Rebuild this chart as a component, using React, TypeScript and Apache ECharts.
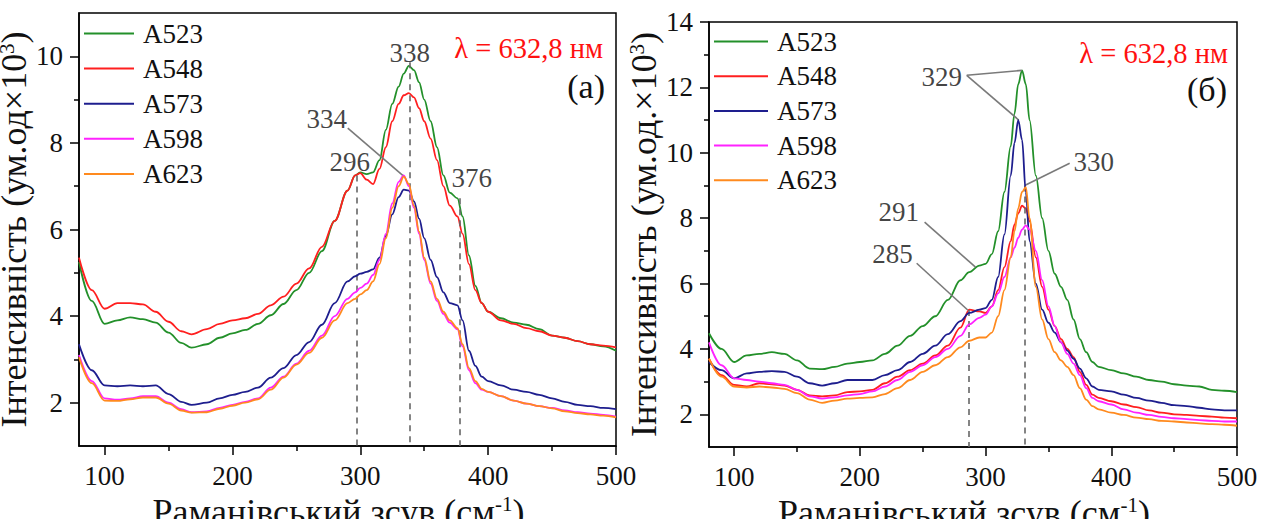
import React, { useEffect, useRef } from 'react';
import * as echarts from 'echarts';

const FONT = 'Liberation Serif';
const NAMES = ['A523', 'A548', 'A573', 'A598', 'A623'];
const COLORS = ['#23902a', '#ff1f1f', '#1e1e8e', '#ff22ff', '#ff8a1e'];

// Tick values
const X_LABELS = [100, 200, 300, 400, 500];
const X_MINOR = [150, 250, 350, 450];
const LY_LABELS = [2, 4, 6, 8, 10];
const LY_MINOR = [3, 5, 7, 9];
const RY_LABELS = [2, 4, 6, 8, 10, 12, 14];
const RY_MINOR = [3, 5, 7, 9, 11, 13];

// Panel (a)
const LX = [80, 90, 100, 110, 120, 130, 140, 150, 160, 168, 180, 190, 200, 210, 220, 230, 240, 250, 260, 270, 280, 290, 296, 300, 305, 310, 315, 320, 325, 330, 334, 338, 342, 346, 350, 355, 360, 365, 370, 376, 380, 385, 390, 395, 400, 410, 420, 430, 440, 450, 460, 470, 480, 490, 500];
const L_A523 = [5.25, 4.35, 3.82, 3.9, 3.97, 3.93, 3.85, 3.62, 3.38, 3.27, 3.35, 3.5, 3.6, 3.68, 3.82, 4.02, 4.28, 4.6, 5.0, 5.5, 6.2, 6.9, 7.25, 7.32, 7.28, 7.32, 7.6, 8.3, 8.9, 9.3, 9.6, 9.78, 9.68, 9.4, 9.0, 8.5, 7.9, 7.25, 6.85, 6.72, 6.3, 5.4, 4.7, 4.3, 4.1, 3.95, 3.85, 3.8, 3.7, 3.55, 3.5, 3.42, 3.35, 3.3, 3.2];
const L_A548 = [5.35, 4.6, 4.17, 4.3, 4.3, 4.27, 4.1, 3.87, 3.65, 3.58, 3.7, 3.82, 3.9, 3.95, 4.05, 4.25, 4.45, 4.75, 5.1, 5.6, 6.2, 6.9, 7.25, 7.3, 7.15, 7.05, 7.4, 7.9, 8.5, 8.9, 9.1, 9.15, 9.05, 8.8, 8.5, 8.1, 7.6, 7.0, 6.55, 6.3, 5.9, 5.2, 4.6, 4.3, 4.1, 3.9, 3.82, 3.72, 3.65, 3.55, 3.5, 3.42, 3.35, 3.32, 3.28];
const L_A573 = [3.35, 2.75, 2.4, 2.38, 2.4, 2.38, 2.4, 2.2, 2.02, 1.95, 2.0, 2.1, 2.18, 2.25, 2.35, 2.58, 2.8, 3.1, 3.4, 3.8, 4.3, 4.8, 4.92, 4.98, 5.02, 5.08, 5.35, 5.85, 6.35, 6.75, 6.92, 6.9, 6.65, 6.25, 5.8, 5.3, 4.9, 4.55, 4.3, 4.25, 3.9, 3.2, 2.85, 2.6, 2.5, 2.4, 2.3, 2.25, 2.18, 2.1, 2.02, 1.95, 1.92, 1.88, 1.85];
const L_A598 = [3.1, 2.5, 2.1, 2.07, 2.1, 2.15, 2.15, 2.0, 1.85, 1.78, 1.8, 1.88, 1.95, 2.02, 2.1, 2.35, 2.6, 2.9, 3.2, 3.55, 4.0, 4.4, 4.55, 4.65, 4.75, 4.95, 5.3, 5.9, 6.6, 7.1, 7.25, 7.0, 6.5, 5.9, 5.3, 4.75, 4.35, 4.05, 3.85, 3.7, 3.3, 2.75, 2.45, 2.3, 2.25, 2.15, 2.05, 1.98, 1.92, 1.88, 1.82, 1.78, 1.75, 1.72, 1.68];
const L_A623 = [3.05, 2.45, 2.05, 2.04, 2.08, 2.12, 2.12, 1.98, 1.82, 1.77, 1.78, 1.86, 1.93, 2.0, 2.08, 2.3, 2.58, 2.88, 3.15, 3.5, 3.9, 4.3, 4.4, 4.5, 4.6, 4.8, 5.2, 5.8, 6.5, 7.0, 7.22, 7.05, 6.55, 5.95, 5.35, 4.8, 4.4, 4.1, 3.9, 3.72, 3.35, 2.8, 2.5, 2.32, 2.25, 2.15, 2.05, 1.98, 1.92, 1.87, 1.8, 1.76, 1.73, 1.7, 1.66];

// Panel (б)
const RX = [80, 90, 100, 110, 120, 130, 140, 150, 160, 170, 180, 190, 200, 210, 220, 230, 240, 250, 260, 270, 280, 287, 295, 300, 305, 310, 315, 320, 323, 326, 329, 332, 335, 340, 345, 350, 355, 360, 365, 370, 375, 380, 385, 390, 400, 410, 420, 430, 440, 450, 460, 470, 480, 490, 500];
const R_A523 = [4.48, 4.0, 3.6, 3.8, 3.85, 3.9, 3.85, 3.65, 3.4, 3.38, 3.45, 3.55, 3.6, 3.65, 3.85, 4.1, 4.4, 4.7, 5.0, 5.5, 6.1, 6.35, 6.55, 6.6, 6.9, 7.6, 8.8, 10.2, 11.2, 12.1, 12.52, 12.1, 11.0, 9.3, 8.0, 7.0, 6.3, 5.9, 5.5, 4.9, 4.3, 3.9, 3.6, 3.45, 3.35, 3.25, 3.15, 3.05, 3.0, 2.92, 2.88, 2.85, 2.75, 2.72, 2.68];
const R_A548 = [3.7, 3.2, 2.9, 2.85, 2.95, 2.92, 2.88, 2.75, 2.58, 2.55, 2.58, 2.68, 2.7, 2.75, 2.95, 3.15, 3.35, 3.55, 3.8, 4.1, 4.65, 5.2, 5.15, 5.1, 5.3, 5.8, 6.5, 7.3, 7.8, 8.15, 8.38, 8.3, 7.9, 6.8, 5.9, 5.2, 4.7, 4.3, 4.0, 3.75, 3.3, 2.9, 2.6, 2.5, 2.4, 2.3, 2.22, 2.12, 2.05, 2.0, 1.98, 1.95, 1.93, 1.9, 1.88];
const R_A573 = [3.6, 3.35, 3.1, 3.25, 3.3, 3.32, 3.3, 3.15, 2.95, 2.88, 2.95, 3.05, 3.05, 3.05, 3.2, 3.35, 3.6, 3.85, 4.1, 4.45, 4.85, 5.1, 5.2, 5.25, 5.5, 6.2, 7.5, 9.3, 10.3, 11.0, 10.4, 8.8, 7.3, 6.0, 5.2, 4.8, 4.5, 4.2, 3.95, 3.7, 3.4, 3.1, 2.85, 2.75, 2.7, 2.6, 2.5, 2.42, 2.35, 2.28, 2.25, 2.2, 2.15, 2.12, 2.12];
const R_A598 = [4.2, 3.5, 3.1, 3.05, 3.0, 2.95, 2.9, 2.75, 2.55, 2.48, 2.52, 2.58, 2.62, 2.7, 2.85, 3.05, 3.3, 3.5, 3.75, 4.0, 4.4, 4.75, 4.95, 5.05, 5.3, 5.7, 6.2, 6.8, 7.1, 7.4, 7.65, 7.78, 7.65, 7.0, 6.1, 5.3, 4.7, 4.2, 3.85, 3.55, 3.2, 2.8, 2.5, 2.4, 2.3, 2.15, 2.05, 1.98, 1.92, 1.88, 1.85, 1.82, 1.8, 1.78, 1.78];
const R_A623 = [3.7, 3.15, 2.85, 2.82, 2.85, 2.82, 2.78, 2.65, 2.45, 2.35, 2.42, 2.48, 2.5, 2.52, 2.62, 2.8, 3.05, 3.3, 3.5, 3.75, 4.05, 4.25, 4.35, 4.35, 4.5, 5.0, 5.8, 6.8, 7.6, 8.3, 8.8, 8.95, 8.0, 5.9, 4.9, 4.3, 3.9, 3.65, 3.45, 3.2, 2.8, 2.45, 2.25, 2.15, 2.05, 1.98, 1.9, 1.85, 1.8, 1.78, 1.75, 1.72, 1.7, 1.68, 1.65];

// Annotations: [x, y, text]
const L_PEAK_LABELS: [number, number, string][] = [
  [338.7, 10.07, '338'],
  [273.7, 8.55, '334'],
  [291.8, 7.55, '296'],
  [387.2, 7.2, '376'],
];
// dashed drop lines: [x, yTop]
const L_DROPS: [number, number][] = [[297, 7.25], [338.5, 9.86], [378, 6.72]];
// leader lines: [x1, y1, x2, y2]
const L_LEADERS: [number, number, number, number][] = [[290.2, 8.34, 334.8, 7.21]];

const R_PEAK_LABELS: [number, number, string][] = [
  [265.1, 12.31, '329'],
  [386, 9.71, '330'],
  [231, 8.18, '291'],
  [226, 6.9, '285'],
];
const R_DROPS: [number, number][] = [[287, 5.19], [331, 9.0]];
const R_LEADERS: [number, number, number, number][] = [
  [285, 12.37, 328.7, 12.52],
  [285, 12.37, 326.4, 11.0],
  [366.9, 9.68, 331.1, 9.0],
  [251.5, 7.88, 292, 6.5],
  [245.2, 6.62, 285.8, 5.19],
];

const LAMBDA = 'λ = 632,8 нм';

function lineSeries(xs: number[], ys: number[], idx: number, axis: number) {
  return {
    type: 'line',
    name: NAMES[idx],
    xAxisIndex: axis,
    yAxisIndex: axis,
    data: xs.map((x, i) => [x, ys[i]]),
    symbol: 'none',
    smooth: 0.35,
    smoothMonotone: 'x',
    lineStyle: { color: COLORS[idx], width: 1.8 },
    itemStyle: { color: COLORS[idx] },
    z: 3 + idx,
  };
}

function annSeries(labels: [number, number, string][], drops: [number, number][], leaders: [number, number, number, number][], axis: number, yMin: number) {
  const dropLines = drops.map(([x, y]) => [
    { coord: [x, y], lineStyle: { type: [6, 5], color: '#666', width: 1.6 } },
    { coord: [x, yMin] },
  ]);
  const leaderLines = leaders.map(([x1, y1, x2, y2]) => [
    { coord: [x1, y1], lineStyle: { type: 'solid', color: '#7a7a7a', width: 1.6 } },
    { coord: [x2, y2] },
  ]);
  return {
    type: 'scatter',
    name: 'ann' + axis,
    xAxisIndex: axis,
    yAxisIndex: axis,
    symbolSize: 0.1,
    itemStyle: { color: 'transparent' },
    data: labels.map(([x, y, t]) => ({ value: [x, y], name: t })),
    label: {
      show: true,
      position: 'inside',
      formatter: '{b}',
      fontFamily: FONT,
      fontSize: 27,
      color: '#111',
    },
    silent: true,
    z: 20,
    markLine: {
      silent: true,
      symbol: ['none', 'none'],
      label: { show: false },
      data: [...dropLines, ...leaderLines],
    },
  };
}

const RICH = {
  a: { fontFamily: FONT, fontSize: 36, color: '#111' },
  s: { fontFamily: FONT, fontSize: 21, color: '#111', verticalAlign: 'top', padding: [0, 0, 14, 0] },
};

function xAxes(grid: number) {
  return [
    {
      type: 'value', gridIndex: grid, min: 80, max: 500, position: 'bottom',
      axisLine: { show: true, onZero: false, lineStyle: { color: '#000', width: 1.5 } },
      axisTick: { show: true, length: 9, customValues: X_LABELS, lineStyle: { color: '#000', width: 1.5 } },
      axisLabel: { customValues: X_LABELS, fontFamily: FONT, fontSize: 27, color: '#111', margin: 16 },
      splitLine: { show: false },
      name: '{a|Раманівський зсув (см}{s|-1}{a|)}',
      nameLocation: 'middle',
      nameGap: 18,
      nameTextStyle: { fontFamily: FONT, fontSize: 36, color: '#111', rich: RICH, padding: [0, 18, 0, 0] },
    },
    {
      type: 'value', gridIndex: grid, min: 80, max: 500, position: 'bottom',
      axisLine: { show: false, onZero: false },
      axisTick: { show: true, length: 5, customValues: X_MINOR, lineStyle: { color: '#000', width: 1.5 } },
      axisLabel: { show: false },
      splitLine: { show: false },
    },
  ];
}

function yAxes(grid: number, max: number, labels: number[], minor: number[], name: string, gap: number) {
  return [
    {
      type: 'value', gridIndex: grid, min: 1, max, position: 'left',
      axisLine: { show: true, onZero: false, lineStyle: { color: '#000', width: 1.5 } },
      axisTick: { show: true, length: 9, customValues: labels, lineStyle: { color: '#000', width: 1.5 } },
      axisLabel: { customValues: labels, fontFamily: FONT, fontSize: 27, color: '#111', margin: 16 },
      splitLine: { show: false },
      name,
      nameLocation: 'middle',
      nameGap: gap,
      nameTextStyle: { fontFamily: FONT, fontSize: 36, color: '#111', rich: RICH },
    },
    {
      type: 'value', gridIndex: grid, min: 1, max, position: 'left',
      axisLine: { show: false, onZero: false },
      axisTick: { show: true, length: 5, customValues: minor, lineStyle: { color: '#000', width: 1.5 } },
      axisLabel: { show: false },
      splitLine: { show: false },
    },
  ];
}

function legend(left: number, top: number, w: number, gap: number) {
  return {
    orient: 'vertical',
    left, top,
    padding: 0,
    icon: 'rect',
    itemWidth: w,
    itemHeight: 2,
    itemGap: gap,
    data: NAMES,
    selectedMode: false,
    textStyle: { fontFamily: FONT, fontSize: 27, color: '#111', lineHeight: 26, padding: [0, 0, 0, 4] },
  };
}

export default function App() {
  const ref = useRef<HTMLDivElement>(null);
  useEffect(() => {
    if (!ref.current) return;
    const chart = echarts.init(ref.current, undefined, { renderer: 'svg' });
    const lx = xAxes(0);
    const rx = xAxes(1);
    const ly = yAxes(0, 11, LY_LABELS, LY_MINOR, '{a|Інтенсивність (ум.од×10}{s|3}{a|)}', 23);
    const ry = yAxes(1, 14, RY_LABELS, RY_MINOR, '{a|Інтенсивність (ум.од.×10}{s|3}{a|)}', 29);
    chart.setOption({
      animation: false,
      backgroundColor: '#fff',
      textStyle: { fontFamily: FONT },
      grid: [
        { left: 79, top: 13, width: 537, height: 433, outerBoundsMode: 'none', containLabel: false, show: true, borderColor: '#000', borderWidth: 1.5, backgroundColor: 'transparent' },
        { left: 709, top: 22, width: 528, height: 425, outerBoundsMode: 'none', containLabel: false, show: true, borderColor: '#000', borderWidth: 1.5, backgroundColor: 'transparent' },
      ],
      xAxis: [...lx, ...rx],
      yAxis: [...ly, ...ry],
      legend: [legend(84, 20, 50, 8.1), legend(714, 28, 54, 7.7)],
      series: [
        lineSeries(LX, L_A523, 0, 0),
        lineSeries(LX, L_A548, 1, 0),
        lineSeries(LX, L_A573, 2, 0),
        lineSeries(LX, L_A598, 3, 0),
        lineSeries(LX, L_A623, 4, 0),
        annSeries(L_PEAK_LABELS, L_DROPS, L_LEADERS, 0, 1),
        lineSeries(RX, R_A523, 0, 2),
        lineSeries(RX, R_A548, 1, 2),
        lineSeries(RX, R_A573, 2, 2),
        lineSeries(RX, R_A598, 3, 2),
        lineSeries(RX, R_A623, 4, 2),
        annSeries(R_PEAK_LABELS, R_DROPS, R_LEADERS, 2, 1),
      ],
      graphic: [
        { type: 'text', x: 603, y: 48, style: { text: LAMBDA, fill: '#ff1010', fontSize: 28.5, fontFamily: FONT, align: 'right', verticalAlign: 'middle' } },
        { type: 'text', x: 605, y: 86, style: { text: '(a)', fill: '#111', fontSize: 34, fontFamily: FONT, align: 'right', verticalAlign: 'middle' } },
        { type: 'text', x: 1228, y: 53, style: { text: LAMBDA, fill: '#ff1010', fontSize: 28.5, fontFamily: FONT, align: 'right', verticalAlign: 'middle' } },
        { type: 'text', x: 1227, y: 89, style: { text: '(б)', fill: '#111', fontSize: 34, fontFamily: FONT, align: 'right', verticalAlign: 'middle' } },
      ],
    });
    return () => chart.dispose();
  }, []);
  return <div ref={ref} style={{ position: 'fixed', left: 0, top: 0, width: 1275, height: 519, background: '#fff' }} />;
}
